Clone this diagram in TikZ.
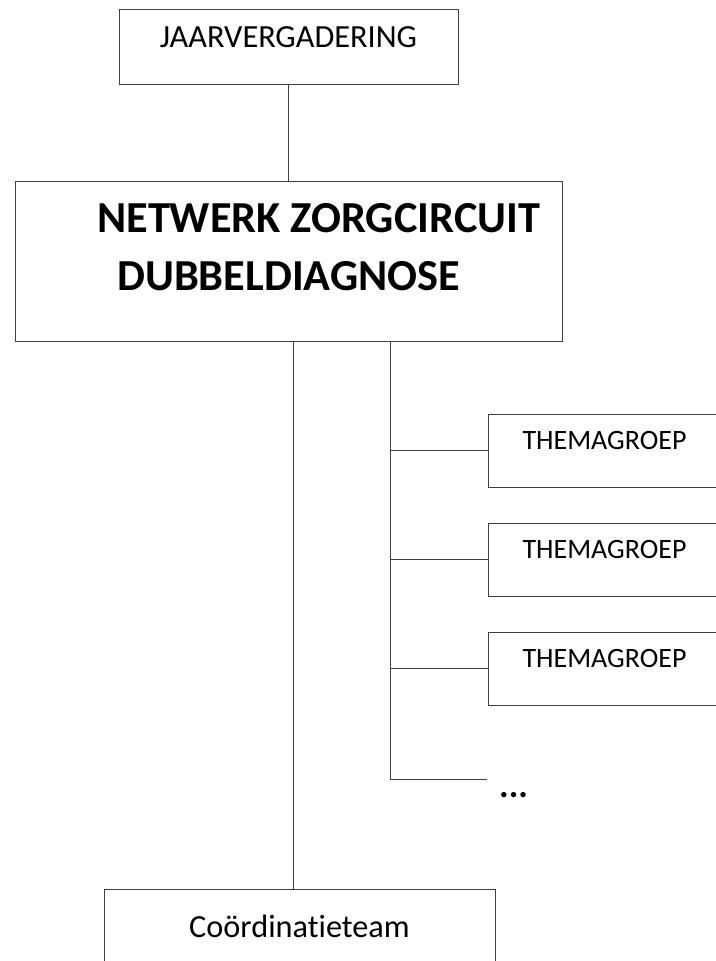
\documentclass[tikz,border=0pt]{standalone}
\usepackage{fontspec}
\setmainfont{Carlito}[RawFeature=-liga]
\usetikzlibrary{
  positioning
}
\tikzset{
  box/.style={draw=black!75, line width=0.9pt, inner sep=0pt, outer sep=0pt},
  link/.style={draw=black!75, line width=0.9pt},
  titel/.style={anchor=base west, inner sep=0pt, font=\bfseries\fontsize{44.3}{50}\selectfont},
  thema/.style={box, minimum width=233pt, text height=35pt, text depth=38pt,
    font=\fontsize{28}{34}\selectfont},
}

\begin{document}
\begin{tikzpicture}[x=1pt, y=-1pt]
      \useasboundingbox (0,0) rectangle (715,961);
      \fontsize{32.3}{38}\selectfont
      \node (jaar) [box, minimum width=339pt, text height=38pt, text depth=37pt]
        at (288.5,46.5) {JAARVERGADERING};
      \node (netwerk) [box, minimum width=547pt, minimum height=160pt] at (289.3,261.8) {};
      \node (titel1) [titel] at (97,232) {NETWERK ZORGCIRCUIT};
      \node (titel2) [titel] at (117,290) {DUBBELDIAGNOSE};

      \node (thema1) [thema] at (604.5,450.5) {THEMAGROEP};
      \node (thema2) [thema, below = 36pt of thema1] {THEMAGROEP};
      \node (thema3) [thema, below = 36pt of thema2] {THEMAGROEP};

      \node (coord) [box, minimum width=391pt, text height=48pt, text depth=32pt]
        at (299.5,929) {Coördinatieteam};

      \coordinate (links) at ([xshift=4pt]netwerk.south);
      \coordinate (rechts) at ([xshift=101.5pt]netwerk.south);
      \coordinate (einde) at (487,779);
      \node (meer) [anchor=base west, inner sep=0pt, font=\bfseries\fontsize{36}{40}\selectfont]
        at (499,797) {...};

      \draw[link] (jaar.south) -- (jaar.south |- netwerk.north);
      \draw[link] (links) -- (links |- coord.north);
      \draw[link] (rechts) -- (rechts |- einde) -- (einde);
      \foreach \t in {thema1, thema2, thema3}
        \draw[link] (rechts |- \t.west) -- (\t.west);
    \end{tikzpicture}
\end{document}
